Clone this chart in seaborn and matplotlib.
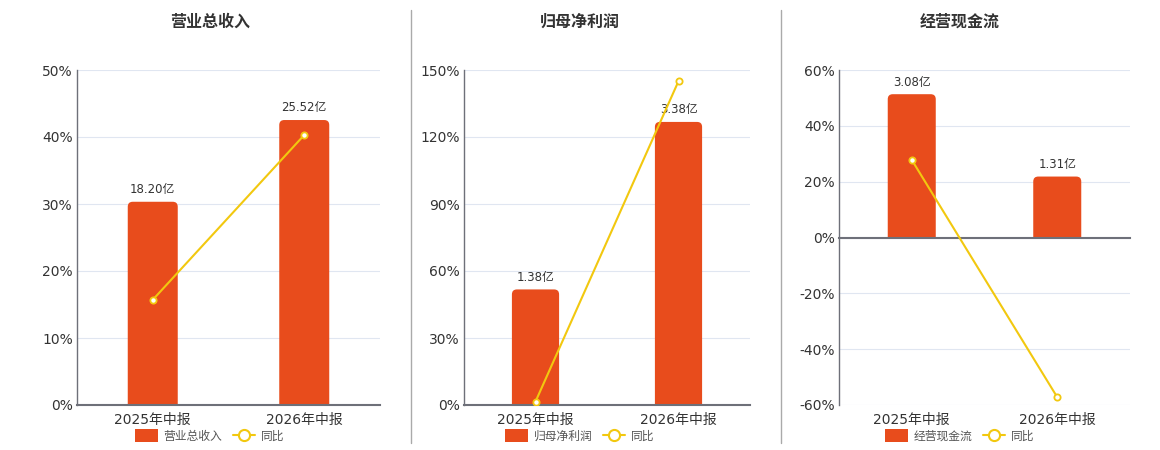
import numpy as np
import pandas as pd
import matplotlib
matplotlib.use("Agg")
import matplotlib.pyplot as plt
from matplotlib.patches import FancyBboxPatch, Rectangle
from matplotlib.lines import Line2D
from matplotlib.ticker import FuncFormatter
import seaborn as sns

# 数据
periods = ["2025年中报", "2026年中报"]
titles = ["营业总收入", "归母净利润", "经营现金流"]
amounts = [[18.20, 25.52], [1.38, 3.38], [3.08, 1.31]]      # 亿
amount_labels = [["18.20亿", "25.52亿"], ["1.38亿", "3.38亿"], ["3.08亿", "1.31亿"]]
yoy = [[15.7, 40.3], [1.5, 145.0], [27.8, -57.2]]              # %
pct_ranges = [(0, 50, 10), (0, 150, 30), (-60, 60, 20)]
amount_ranges = [(0, 30), (0, 4), (-3.6, 3.6)]

BAR = "#E84C1C"
LINE = "#F2C80F"
AXIS = "#6E7079"
GRID = "#E0E6F1"
TXT = "#333333"

sns.set_theme(style="white")
plt.rcParams["font.family"] = ["DejaVu Sans", "Noto Sans CJK SC"]

W, H = 1160, 450
fig = plt.figure(figsize=(W / 100, H / 100), dpi=100)

axes_px = [(77, 380), (464, 750), (839, 1130)]
centers = [210, 580, 960]
top_px, bot_px = 70, 405

for k in range(3):
    l, r = axes_px[k]
    ax = fig.add_axes([l / W, 1 - bot_px / H, (r - l) / W, (bot_px - top_px) / H])
    axb = ax.twinx()
    ax.set_zorder(axb.get_zorder() + 1)
    ax.patch.set_visible(False)

    df = pd.DataFrame({"period": periods, "amount": amounts[k], "yoy": yoy[k]})

    # 柱子（金额）
    sns.barplot(data=df, x="period", y="amount", color=BAR, width=0.33,
                saturation=1, ax=axb, zorder=2)
    lo, hi = amount_ranges[k]
    axb.set_ylim(lo, hi)
    pmin, pmax, pstep = pct_ranges[k]
    nt = int(round((pmax - pmin) / pstep)) + 1
    axb.set_yticks(np.linspace(lo, hi, nt))
    axb.yaxis.grid(True, color=GRID, linewidth=0.8)
    axb.set_axisbelow(True)
    axb.tick_params(axis="y", right=False, labelright=False, length=0)
    axb.set_ylabel("")
    for s in axb.spines.values():
        s.set_visible(False)

    # 圆角柱顶
    px_per_x = (r - l) / 2.0
    px_per_y = (bot_px - top_px) / (hi - lo)
    rad = 5
    for p in list(axb.patches):
        x0, w, h = p.get_x(), p.get_width(), p.get_height()
        ext = rad / px_per_y
        fb = FancyBboxPatch((x0, -ext), w, h + ext,
                            boxstyle=f"round,pad=0,rounding_size={rad / px_per_x}",
                            mutation_aspect=px_per_x / px_per_y,
                            facecolor=BAR, edgecolor="none", zorder=2)
        axb.add_patch(fb)
        clip = Rectangle((x0 - 0.1, 0), w + 0.2, hi, transform=axb.transData)
        fb.set_clip_path(clip)
        p.remove()

    for i, v in enumerate(amounts[k]):
        axb.annotate(amount_labels[k][i], (i, v), xytext=(0, 4), textcoords="offset points",
                     ha="center", va="bottom", fontsize=8.5, color=TXT)

    # 折线（同比）
    sns.lineplot(x=np.arange(len(periods)), y=yoy[k], color=LINE, linewidth=1.5,
                 marker="o", markersize=4.5, markerfacecolor="white",
                 markeredgecolor=LINE, markeredgewidth=1.3, ax=ax, zorder=5)
    ax.set_ylim(pmin, pmax)
    ax.set_yticks(np.arange(pmin, pmax + 1, pstep))
    ax.yaxis.set_major_formatter(FuncFormatter(lambda v, _: f"{v:.0f}%"))
    ax.set_xlim(-0.5, 1.5)
    ax.set_xticks(range(len(periods)))
    ax.set_xticklabels(periods)
    ax.set_xticks([-0.5, 0.5, 1.5], minor=True)
    ax.tick_params(axis="x", which="major", length=0, labelsize=10, labelcolor=TXT, pad=6)
    ax.tick_params(axis="x", which="minor", length=5, width=1, color=AXIS, direction="out")
    ax.tick_params(axis="y", length=0, labelsize=10, labelcolor=TXT, pad=3)
    ax.set_xlabel("")
    ax.set_ylabel("")
    for s in ["top", "right"]:
        ax.spines[s].set_visible(False)
    ax.spines["left"].set_color(AXIS)
    ax.spines["left"].set_linewidth(1)
    ax.spines["bottom"].set_color(AXIS)
    ax.spines["bottom"].set_linewidth(1.5)
    if pmin < 0:
        ax.spines["bottom"].set_position(("data", 0))
        ax.tick_params(axis="x", which="major", pad=6 + (bot_px - top_px) / 2 * 0.72)
    axb.tick_params(axis="x", length=0, labelbottom=False)
    axb.set_xlabel("")

    # 标题与图例
    fig.text(centers[k] / W, 1 - 22 / H, titles[k], ha="center", va="center",
             fontsize=11.5, fontweight="bold", color=TXT)
    handles = [
        FancyBboxPatch((0, 0), 1, 1, boxstyle="round,pad=0,rounding_size=0.2",
                       facecolor=BAR, edgecolor="none"),
        Line2D([0], [0], color=LINE, linewidth=1.5, marker="o", markersize=8,
               markerfacecolor="white", markeredgecolor=LINE, markeredgewidth=1.5),
    ]
    fig.legend(handles, [titles[k], "同比"], loc="center",
               bbox_to_anchor=(centers[k] / W, 1 - 436 / H), ncol=2, frameon=False,
               fontsize=8.5, labelcolor="#555555", handlelength=1.9, handleheight=1.2,
               columnspacing=0.9, handletextpad=0.5)

# 分隔线
for xs in (410.5, 780.5):
    fig.add_artist(Line2D([xs / W, xs / W], [1 - 10 / H, 1 - 443 / H],
                          color="#AAAAAA", linewidth=1))

fig.savefig("out.png", dpi=100)
